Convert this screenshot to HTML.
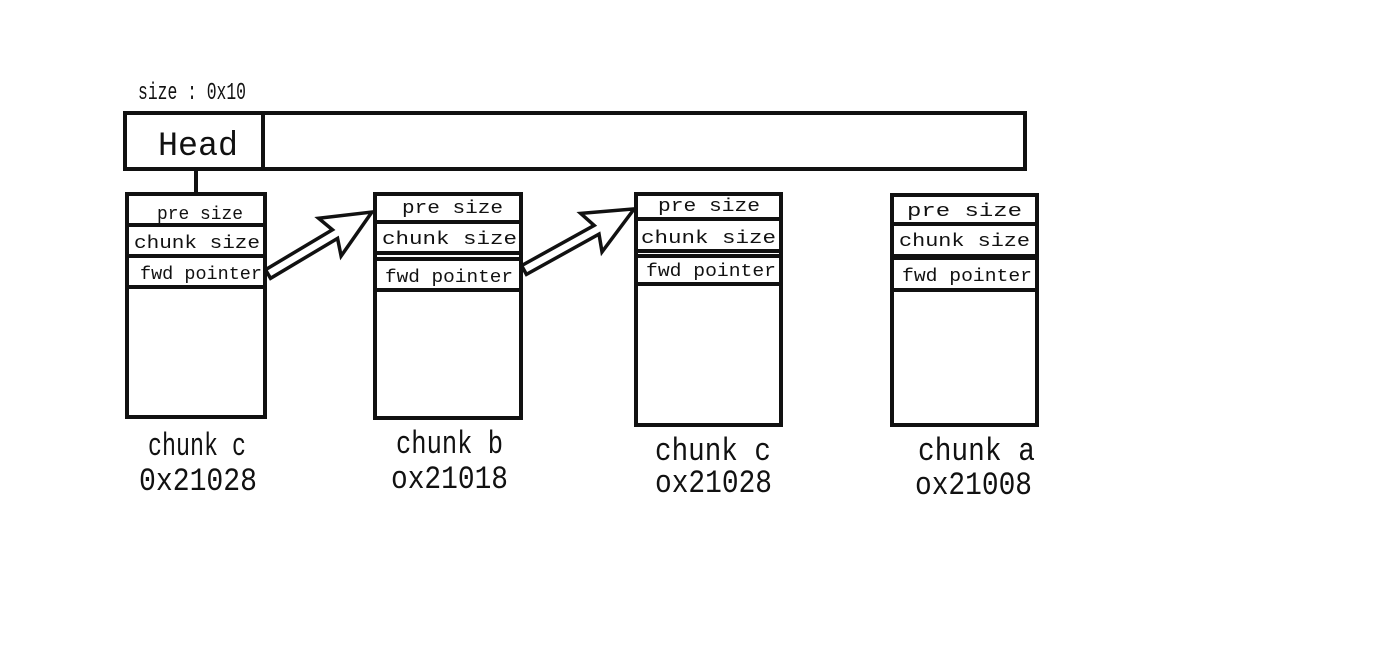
<!DOCTYPE html>
<html><head><style>html,body{margin:0;padding:0;background:#fff;}svg{display:block}</style></head>
<body>
<svg width="1400" height="659" viewBox="0 0 1400 659" xmlns="http://www.w3.org/2000/svg" font-family="Liberation Mono, monospace" fill="none" stroke="#111" stroke-width="4">
<rect x="0" y="0" width="1400" height="659" fill="#fff" stroke="none"/>
<g stroke="none" fill="#111">
<text x="138" y="99" font-size="24" textLength="108" lengthAdjust="spacingAndGlyphs" font-family="Liberation Mono, monospace">size : 0x10</text>
<text x="158" y="155" font-size="34" textLength="80" lengthAdjust="spacingAndGlyphs" font-family="Liberation Mono, monospace">Head</text>
</g>
<rect x="125" y="113" width="900" height="56"/>
<line x1="263" y1="113" x2="263" y2="170"/>
<line x1="196" y1="169" x2="196" y2="194"/>

<rect x="127" y="194" width="138" height="223"/>
<line x1="127" y1="225" x2="265" y2="225"/>
<line x1="127" y1="256" x2="265" y2="256"/>
<line x1="127" y1="287" x2="265" y2="287"/>
<rect x="375" y="194" width="146" height="224"/>
<line x1="375" y1="222" x2="521" y2="222"/>
<line x1="375" y1="253" x2="521" y2="253"/>
<line x1="375" y1="259" x2="521" y2="259"/>
<line x1="375" y1="290" x2="521" y2="290"/>
<rect x="636" y="194" width="145" height="231"/>
<line x1="636" y1="219" x2="781" y2="219"/>
<line x1="636" y1="251" x2="781" y2="251"/>
<line x1="636" y1="256" x2="781" y2="256"/>
<line x1="636" y1="284" x2="781" y2="284"/>
<rect x="892" y="195" width="145" height="230"/>
<line x1="892" y1="224" x2="1037" y2="224"/>
<line x1="892" y1="256" x2="1037" y2="256"/>
<line x1="892" y1="258" x2="1037" y2="258"/>
<line x1="892" y1="290" x2="1037" y2="290"/>

<polygon transform="translate(268,274) rotate(-30.8)" points="0,-5 78,-5 72,-22 121,0 72,22 78,5 0,5" fill="#fff" stroke-width="3.5" stroke-linejoin="miter"/>
<polygon transform="translate(524,270) rotate(-29)" points="0,-5 83,-5 77,-22 126,0 77,22 83,5 0,5" fill="#fff" stroke-width="3.5" stroke-linejoin="miter"/>

<g stroke="none" fill="#111" font-size="18">
<text x="157" y="219" textLength="86" lengthAdjust="spacingAndGlyphs">pre size</text>
<text x="134" y="248" textLength="126" lengthAdjust="spacingAndGlyphs">chunk size</text>
<text x="140" y="279" textLength="122" lengthAdjust="spacingAndGlyphs">fwd pointer</text>

<text x="402" y="213" textLength="101" lengthAdjust="spacingAndGlyphs">pre size</text>
<text x="382" y="244" textLength="135" lengthAdjust="spacingAndGlyphs">chunk size</text>
<text x="385" y="282" textLength="128" lengthAdjust="spacingAndGlyphs">fwd pointer</text>

<text x="658" y="211" textLength="102" lengthAdjust="spacingAndGlyphs">pre size</text>
<text x="641" y="243" textLength="135" lengthAdjust="spacingAndGlyphs">chunk size</text>
<text x="646" y="276" textLength="130" lengthAdjust="spacingAndGlyphs">fwd pointer</text>

<text x="907" y="216" textLength="115" lengthAdjust="spacingAndGlyphs">pre size</text>
<text x="899" y="246" textLength="131" lengthAdjust="spacingAndGlyphs">chunk size</text>
<text x="902" y="281" textLength="130" lengthAdjust="spacingAndGlyphs">fwd pointer</text>
</g>

<g stroke="none" fill="#111" font-family="Liberation Mono, monospace" font-size="32">
<text x="148" y="455" textLength="98" lengthAdjust="spacingAndGlyphs">chunk c</text>
<text x="139" y="490" textLength="118" lengthAdjust="spacingAndGlyphs">0x21028</text>
<text x="396" y="453" textLength="107" lengthAdjust="spacingAndGlyphs">chunk b</text>
<text x="391" y="488" textLength="117" lengthAdjust="spacingAndGlyphs">ox21018</text>
<text x="655" y="460" textLength="116" lengthAdjust="spacingAndGlyphs">chunk c</text>
<text x="655" y="492" textLength="117" lengthAdjust="spacingAndGlyphs">ox21028</text>
<text x="918" y="460" textLength="117" lengthAdjust="spacingAndGlyphs">chunk a</text>
<text x="915" y="494" textLength="117" lengthAdjust="spacingAndGlyphs">ox21008</text>
</g>
</svg>
</body></html>
